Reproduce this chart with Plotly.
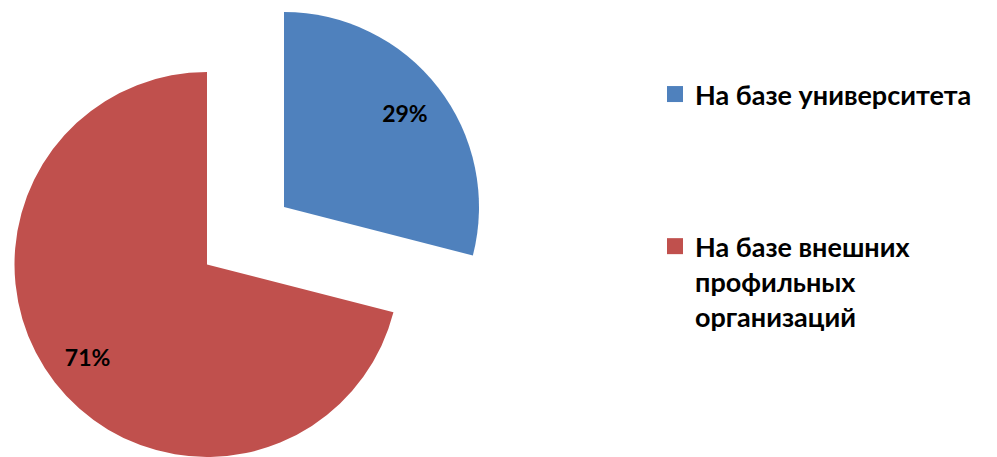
import plotly.graph_objects as go

# ---- data ----
labels = ["На базе университета", "На базе внешних<br>профильных<br>организаций"]
values = [29, 71]
colors = ["#4F81BD", "#C0504D"]
clear = "rgba(0,0,0,0)"

W, H = 997, 457
FONT = "Lato, 'Noto Sans', sans-serif"

# pie boxes (exploded slice drawn as its own pie, offset from the main one)
dom_blue = dict(x=[89 / W, 479 / W], y=[1 - 402 / H, 1 - 12 / H])
dom_red = dict(x=[14.5 / W, 399.5 / W], y=[0, 1 - 72 / H])

fig = go.Figure()


def fill_pie(slice_colors, dom):
    return go.Pie(
        labels=labels, values=values, sort=False, direction="clockwise", rotation=0,
        marker=dict(colors=slice_colors, line=dict(width=0)),
        textinfo="none", domain=dom, showlegend=False, hoverinfo="label+percent",
    )


def text_pie(templates, dom):
    # transparent ring that only carries the percentage labels near the rim
    return go.Pie(
        labels=labels, values=values, sort=False, direction="clockwise", rotation=0,
        hole=0.57,
        marker=dict(colors=[clear, clear], line=dict(width=0)),
        texttemplate=templates, textposition="inside",
        insidetextorientation="horizontal",
        insidetextfont=dict(family=FONT, size=23, color="#000000", weight="bold"),
        domain=dom, showlegend=False, hoverinfo="skip",
    )


fig.add_trace(fill_pie([colors[0], clear], dom_blue))
fig.add_trace(fill_pie([clear, colors[1]], dom_red))
fig.add_trace(text_pie(["%{percent:.0%}", ""], dom_blue))
fig.add_trace(text_pie(["", "%{percent:.0%}"], dom_red))

# legend entries
for i, (lab, col) in enumerate(zip(labels, colors)):
    fig.add_trace(go.Scatter(
        x=[None], y=[None], mode="markers", name=lab, legendgroup=f"g{i}",
        marker=dict(symbol="square", size=16, color=col),
    ))

fig.update_layout(
    width=W, height=H, autosize=False,
    margin=dict(l=0, r=0, t=0, b=0),
    paper_bgcolor="white", plot_bgcolor="white",
    xaxis=dict(visible=False), yaxis=dict(visible=False),
    legend=dict(
        x=655 / W, xanchor="left", y=1 - 70 / H, yanchor="top",
        font=dict(family=FONT, size=27, color="#000000", weight="bold"),
        traceorder="grouped", tracegroupgap=114, valign="top",
        bgcolor="rgba(0,0,0,0)", itemclick=False, itemdoubleclick=False,
    ),
)

fig.write_html(
    "out.html",
    config={"displayModeBar": False},
    post_script="document.body.style.margin='0';document.body.style.overflow='hidden';",
)
